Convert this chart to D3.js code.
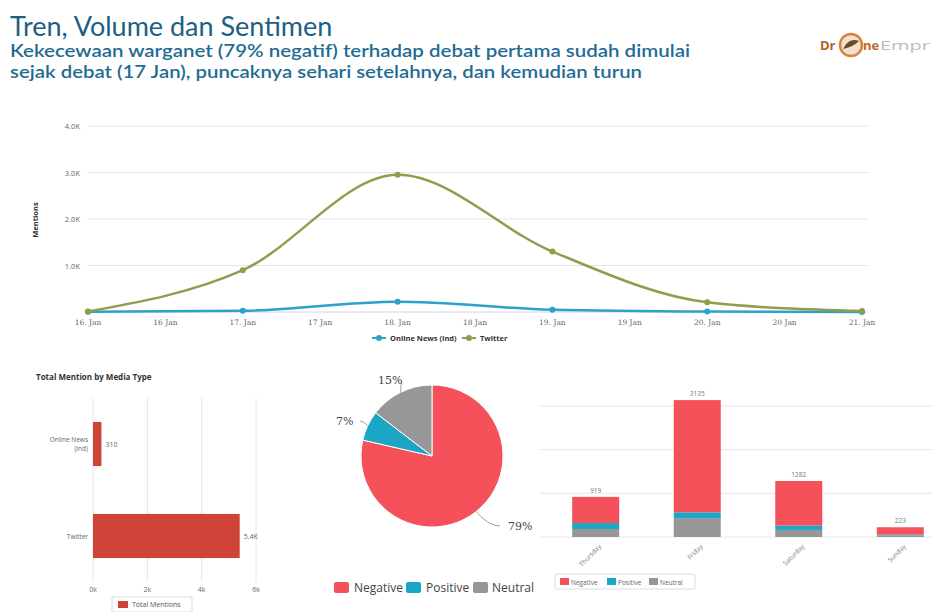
<!DOCTYPE html>
<html><head><meta charset="utf-8">
<script src="https://cdn.jsdelivr.net/npm/d3@7"></script>
<style>
html,body{margin:0;padding:0;background:#fff;}
svg{display:block;}
text{font-family:"Open Sans","DejaVu Sans",sans-serif;}
</style></head>
<body>
<svg id="c" width="932" height="612"></svg>
<script>
// ---------- data ----------
const title = "Tren, Volume dan Sentimen";
const subtitle = ["Kekecewaan warganet (79% negatif) terhadap debat pertama sudah dimulai",
                  "sejak debat (17 Jan), puncaknya sehari setelahnya, dan kemudian turun"];
const dayIndex = [0, 1, 2, 3, 4, 5];
const xTickLabels = ["16. Jan","16 Jan","17. Jan","17 Jan","18. Jan","18 Jan","19. Jan","19 Jan","20. Jan","20 Jan","21. Jan"];
const yTickValues = [1000, 2000, 3000, 4000];
const yTickLabels = ["1.0K","2.0K","3.0K","4.0K"];
const onlineNews = [5, 25, 220, 50, 10, 0];
const twitter = [10, 900, 2950, 1300, 210, 20];
const lineSeriesNames = ["Online News (Ind)", "Twitter"];

const mediaTypes = ["Online News (Ind)", "Twitter"];
const mediaTotals = [310, 5400];
const mediaValueLabels = ["310", "5.4K"];
const mediaTicks = [0, 2000, 4000, 6000];
const mediaTickLabels = ["0k", "2k", "4k", "6k"];

const sentiments = ["Negative", "Positive", "Neutral"];
const sentimentShare = [78.6, 6.8, 14.6];
const sentimentLabels = ["79%", "7%", "15%"];

const days = ["Thursday", "Friday", "Saturday", "Sunday"];
const dayNegative = [600, 2570, 1020, 170];
const dayPositive = [135, 135, 100, 20];
const dayNeutral  = [184, 430, 162, 33];
const dayGrid = [0, 1000, 2000, 3000];

// ---------- styles ----------
const C = {neg:"#f5515a", pos:"#1ba6c6", neu:"#979797", bar:"#cf4338",
           tw:"#8f9e4d", news:"#2ca1c9", grid:"#e6e6e6", txt:"#666"};

const svg = d3.select("#c");

// ---------- header ----------
svg.append("text").attr("x",10).attr("y",36).attr("fill","#1d5f83")
  .style("font-family","Lato, 'Open Sans', sans-serif").attr("font-size",27).text(title);
const subLen = [680, 632];
subtitle.forEach((s,i)=>svg.append("text").attr("x",10).attr("y",57+i*21)
  .attr("fill","#1f6c93").attr("font-size",17.5).attr("font-weight",600)
  .attr("textLength",subLen[i]).attr("lengthAdjust","spacingAndGlyphs")
  .style("font-family","Lato, 'Open Sans', sans-serif").text(s));
// logo
const lg = svg.append("g");
lg.append("text").attr("x",820).attr("y",50).attr("font-size",13).attr("font-weight",700).attr("fill","#b4621f").text("Dr");
lg.append("circle").attr("cx",851).attr("cy",45).attr("r",11).attr("fill","#f2e0cf").attr("stroke","#d8843f").attr("stroke-width",2.5);
lg.append("path").attr("d","M843,49 Q849,37 859,41 Q853,47 843,49Z").attr("fill","#6b4a2a");
lg.append("text").attr("x",863).attr("y",50).attr("font-size",13).attr("font-weight",700).attr("fill","#c0692a").text("ne");
lg.append("text").attr("x",880).attr("y",50).attr("font-size",13).attr("fill","#bbb")
  .attr("textLength",50).attr("lengthAdjust","spacingAndGlyphs").text("Empr");

// ---------- line chart ----------
const lx = d3.scaleLinear().domain([0,5]).range([88,862]);
const ly = d3.scaleLinear().domain([0,4000]).range([312,126]);
const lineG = svg.append("g");
yTickValues.forEach((v,i)=>{
  lineG.append("line").attr("x1",88).attr("x2",868).attr("y1",ly(v)).attr("y2",ly(v)).attr("stroke",C.grid);
  lineG.append("text").attr("x",80).attr("y",ly(v)+3).attr("text-anchor","end").attr("font-size",7.5).attr("fill",C.txt).text(yTickLabels[i]);
});
lineG.append("line").attr("x1",88).attr("x2",868).attr("y1",ly(0)).attr("y2",ly(0)).attr("stroke","#ccd6eb");
xTickLabels.forEach((t,i)=>{
  lineG.append("text").attr("x",lx(i/2)).attr("y",325).attr("text-anchor","middle")
    .attr("font-size",7.5).attr("fill",C.txt).style("font-family","'DejaVu Serif',serif").text(t);
});
lineG.append("text").attr("transform","translate(38,220) rotate(-90)").attr("text-anchor","middle")
  .attr("font-size",7.5).attr("font-weight",700).attr("fill","#333").text("Mentions");
const lineGen = d3.line().x((d,i)=>lx(dayIndex[i])).y(d=>ly(d)).curve(d3.curveMonotoneX);
[[onlineNews,C.news],[twitter,C.tw]].forEach(([s,col])=>{
  lineG.append("path").attr("d",lineGen(s)).attr("fill","none").attr("stroke",col).attr("stroke-width",2.5);
  lineG.selectAll(null).data(s).enter().append("circle").attr("cx",(d,i)=>lx(dayIndex[i])).attr("cy",d=>ly(d))
    .attr("r",3).attr("fill",col);
});
// legend
const lleg = [[372,C.news,lineSeriesNames[0]],[462,C.tw,lineSeriesNames[1]]];
lleg.forEach(([x,col,name])=>{
  lineG.append("line").attr("x1",x).attr("x2",x+14).attr("y1",338).attr("y2",338).attr("stroke",col).attr("stroke-width",2);
  lineG.append("circle").attr("cx",x+7).attr("cy",338).attr("r",3).attr("fill",col);
  lineG.append("text").attr("x",x+18).attr("y",341).attr("font-size",7.5).attr("font-weight",700).attr("fill","#333").text(name);
});

// ---------- horizontal bar chart ----------
const hx = d3.scaleLinear().domain([0,6000]).range([93,256]);
const hy = d3.scaleBand().domain(mediaTypes).range([398,582]).paddingInner(0.52).paddingOuter(0.26);
const hG = svg.append("g");
hG.append("text").attr("x",36).attr("y",380).attr("font-size",8).attr("font-weight",700).attr("fill","#333").text("Total Mention by Media Type");
mediaTicks.forEach((t,i)=>{
  hG.append("line").attr("x1",hx(t)).attr("x2",hx(t)).attr("y1",398).attr("y2",582).attr("stroke",C.grid);
  hG.append("text").attr("x",hx(t)).attr("y",592).attr("text-anchor","middle").attr("font-size",7).attr("fill",C.txt).text(mediaTickLabels[i]);
});
mediaTypes.forEach((m,i)=>{
  hG.append("rect").attr("x",hx(0)).attr("y",hy(m)).attr("width",hx(mediaTotals[i])-hx(0)).attr("height",hy.bandwidth()).attr("fill",C.bar);
  hG.append("text").attr("x",hx(mediaTotals[i])+4).attr("y",hy(m)+hy.bandwidth()/2+3).attr("font-size",7).attr("fill",C.txt).text(mediaValueLabels[i]);
});
hG.append("text").attr("x",88).attr("y",hy(mediaTypes[0])+hy.bandwidth()/2).attr("text-anchor","end").attr("font-size",6.5).attr("fill",C.txt)
  .call(t=>{t.append("tspan").attr("x",88).attr("dy",-2).text("Online News");t.append("tspan").attr("x",88).attr("dy",9).text("(Ind)");});
hG.append("text").attr("x",88).attr("y",hy(mediaTypes[1])+hy.bandwidth()/2+3).attr("text-anchor","end").attr("font-size",6.5).attr("fill",C.txt).text("Twitter");
hG.append("rect").attr("x",112).attr("y",597).attr("width",80).attr("height",15).attr("fill","#fff").attr("stroke","#ddd");
hG.append("rect").attr("x",118).attr("y",601).attr("width",10).attr("height",7).attr("fill",C.bar);
hG.append("text").attr("x",132).attr("y",607).attr("font-size",7).attr("fill","#555").text("Total Mentions");

// ---------- pie ----------
const pG = svg.append("g").attr("transform","translate(432,456)");
const pie = d3.pie().sort(null)(sentimentShare);
const arc = d3.arc().innerRadius(0).outerRadius(71);
const pcol = [C.neg, C.pos, C.neu];
pG.selectAll(null).data(pie).enter().append("path").attr("d",arc).attr("fill",(d,i)=>pcol[i]).attr("stroke","#fff").attr("stroke-width",1);
const labelPos = [[76,70],[-96,-35],[-54,-76]];
pie.forEach((d,i)=>{
  const a = (d.startAngle+d.endAngle)/2;
  const ex = Math.sin(a)*71, ey = -Math.cos(a)*71;
  const [lx2,ly2] = labelPos[i];
  const ax = lx2 + (lx2>0? -8: 24);
  pG.append("path").attr("d",`M${ex},${ey} Q${(ex+ax)/2},${ly2} ${ax},${ly2}`)
    .attr("fill","none").attr("stroke","#888").attr("stroke-width",0.8);
  pG.append("text").attr("x",lx2).attr("y",ly2+4).attr("font-size",11).attr("fill","#444")
    .style("font-family","'DejaVu Serif',serif").text(sentimentLabels[i]);
});
const pleg = [[334,353],[406,425],[473,491]];
sentiments.forEach((s,i)=>{
  svg.append("rect").attr("x",pleg[i][0]).attr("y",582).attr("width",15).attr("height",11).attr("rx",2).attr("fill",pcol[i]);
  svg.append("text").attr("x",pleg[i][1]+1).attr("y",592).attr("font-size",12).attr("fill","#444").text(s);
});

// ---------- stacked bars ----------
const sx = d3.scaleBand().domain(days).range([545,951]).paddingInner(0.537).paddingOuter(0.268);
const sy = d3.scaleLinear().domain([0,3000]).range([537,406]);
const sG = svg.append("g");
dayGrid.forEach(v=>sG.append("line").attr("x1",540).attr("x2",932).attr("y1",sy(v)).attr("y2",sy(v)).attr("stroke",C.grid));
const stackData = days.map((d,i)=>({day:d, Neutral:dayNeutral[i], Positive:dayPositive[i], Negative:dayNegative[i]}));
const stack = d3.stack().keys(["Neutral","Positive","Negative"])(stackData);
const scol = {Neutral:C.neu, Positive:C.pos, Negative:C.neg};
stack.forEach(layer=>{
  sG.selectAll(null).data(layer).enter().append("rect")
    .attr("x",d=>sx(d.data.day)).attr("width",sx.bandwidth())
    .attr("y",d=>sy(d[1])).attr("height",d=>sy(d[0])-sy(d[1])).attr("fill",scol[layer.key]);
});
days.forEach((d,i)=>{
  const tot = dayNegative[i]+dayPositive[i]+dayNeutral[i];
  sG.append("text").attr("x",sx(d)+sx.bandwidth()/2).attr("y",sy(tot)-4).attr("text-anchor","middle").attr("font-size",6.5).attr("fill","#777").text(tot);
  sG.append("text").attr("transform",`translate(${sx(d)+sx.bandwidth()/2+6},${547}) rotate(-45)`).attr("text-anchor","end")
    .attr("font-size",6.5).attr("fill","#777").text(d);
});
sG.append("rect").attr("x",555).attr("y",574).attr("width",140).attr("height",15).attr("rx",2).attr("fill","#fff").attr("stroke","#ddd");
[[560,"Negative",C.neg],[607,"Positive",C.pos],[649,"Neutral",C.neu]].forEach(([x,n,c])=>{
  sG.append("rect").attr("x",x).attr("y",578).attr("width",9).attr("height",7).attr("fill",c);
  sG.append("text").attr("x",x+11).attr("y",584.5).attr("font-size",6.5).attr("fill","#666").text(n);
});
</script>
</body></html>
